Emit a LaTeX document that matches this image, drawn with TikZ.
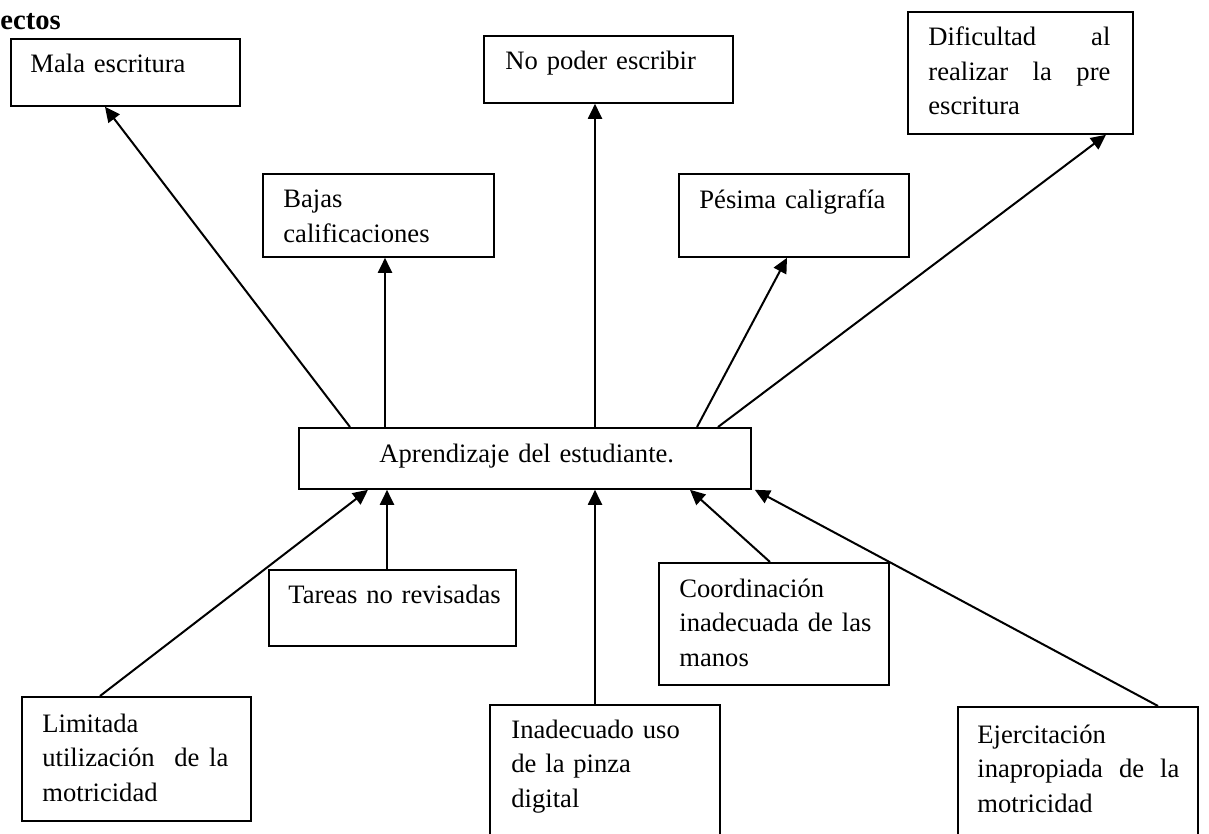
\documentclass[tikz,border=0pt]{standalone}
\usepackage{fontspec}
\setmainfont{Liberation Serif}
\usetikzlibrary{arrows.meta}
\begin{document}
\begin{tikzpicture}[x=0.5pt,y=-0.5pt,
  box/.style={draw, line width=0.9pt, inner sep=0pt, anchor=north west},
  txt/.style={inner sep=0pt, anchor=base west, align=left, text width=#1,
    font=\fontsize{13.3}{17.25}\selectfont},
  txt/.default=140pt,
  arr/.style={line width=1pt, -{Triangle[length=7.5pt,width=7pt]}}]
\useasboundingbox (0,0) rectangle (1209,834);
\clip (0,0) rectangle (1209,834);
% title
\node[inner sep=0pt, anchor=base west, font=\fontsize{14.3}{16}\selectfont\bfseries] (title) at (0,30) {ectos};
% boxes
\node[box, minimum width=114.5pt, minimum height=33.5pt] (mala) at (10,38) {};
\node[box, minimum width=124.5pt, minimum height=33.5pt] (nopoder) at (483,35) {};
\node[box, minimum width=112.5pt, minimum height=61pt] (dif) at (907,11) {};
\node[box, minimum width=115.5pt, minimum height=41.5pt] (bajas) at (262,173) {};
\node[box, minimum width=115pt, minimum height=41.5pt] (pesima) at (678,173) {};
\node[box, minimum width=226pt, minimum height=30.5pt] (apr) at (298,427) {};
\node[box, minimum width=123.5pt, minimum height=38pt] (tareas) at (268,569) {};
\node[box, minimum width=115pt, minimum height=61pt] (coo) at (658,562) {};
\node[box, minimum width=114.5pt, minimum height=62pt] (lim) at (21,696) {};
\node[box, minimum width=115pt, minimum height=75pt] (ina) at (489,704) {};
\node[box, minimum width=120pt, minimum height=75pt] (eje) at (957,706) {};
% texts
\node[txt] (malat) at (30,73) {Mala escritura};
\node[txt] (nopodert) at (505,70) {No poder escribir};
\node[txt=91pt] (dift) at (928,46) {Dificultad\hfill al\\realizar\hfill la\hfill pre\\escritura};
\node[txt] (bajast) at (283,208) {Bajas\\calificaciones};
\node[txt] (pesimat) at (699,209) {Pésima caligrafía};
\node[txt=200pt] (aprt) at (379,462) {Aprendizaje del estudiante.};
\node[txt] (tareast) at (288,603) {Tareas no revisadas};
\node[txt] (coot) at (679,597) {Coordinación\\inadecuada de las\\manos};
\node[txt=93pt] (limt) at (42,732) {Limitada\\utilización\hfill\hfill de\hfill la\\motricidad};
\node[txt] (inat) at (511,738) {Inadecuado uso\\de la pinza\\digital};
\node[txt=101pt] (ejet) at (977,743) {Ejercitación\\inapropiada\hfill de\hfill la\\motricidad};
% arrows: effects
\draw[arr] ([xshift=26pt]apr.north west) -- ([xshift=47.5pt]mala.south west);
\draw[arr] ([xshift=43.5pt]apr.north west) -- ([xshift=61.5pt]bajas.south west);
\draw[arr] ([xshift=148.5pt]apr.north west) -- ([xshift=56pt]nopoder.south west);
\draw[arr] ([xshift=199.5pt]apr.north west) -- ([xshift=54.5pt]pesima.south west);
\draw[arr] ([xshift=210pt]apr.north west) -- ([xshift=99.5pt]dif.south west);
% arrows: causes
\draw[arr] ([xshift=39.5pt]lim.north west) -- ([xshift=35pt]apr.south west);
\draw[arr] ([xshift=59.5pt]tareas.north west) -- ([xshift=44.5pt]apr.south west);
\draw[arr] ([xshift=53pt]ina.north west) -- ([xshift=148.5pt]apr.south west);
\draw[arr] ([xshift=56pt]coo.north west) -- ([xshift=196pt]apr.south west);
\draw[arr] ([xshift=100.5pt]eje.north west) -- ([xshift=1.5pt]apr.south east);
\end{tikzpicture}
\end{document}
